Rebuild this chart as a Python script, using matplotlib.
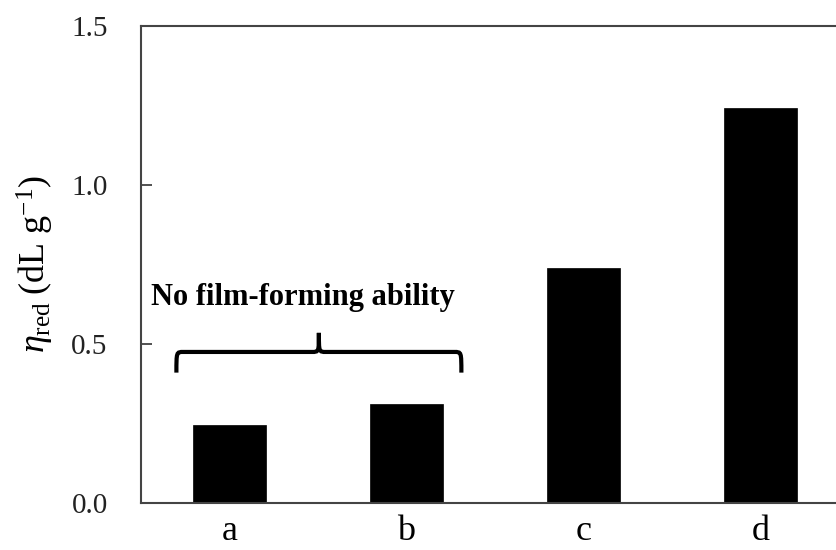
import matplotlib
matplotlib.use("Agg")
import matplotlib.pyplot as plt
import numpy as np
from matplotlib.path import Path
from matplotlib.patches import PathPatch

categories = ["a", "b", "c", "d"]
values = [0.245, 0.311, 0.740, 1.242]
yticks = [0.0, 0.5, 1.0, 1.5]
ytick_labels = ["0.0", "0.5", "1.0", "1.5"]
annotation_text = "No film-forming ability"

plt.rcParams['font.family'] = ['Liberation Serif', 'DejaVu Serif']
plt.rcParams['mathtext.fontset'] = 'custom'
plt.rcParams['mathtext.rm'] = 'Liberation Serif'
plt.rcParams['mathtext.it'] = 'Liberation Serif:italic'

fig = plt.figure(figsize=(8.36, 5.5), dpi=100)
W, H = 836, 550
left, right, top, bottom = 141, 849, 26, 503
ax = fig.add_axes([left / W, 1 - bottom / H, (right - left) / W, (bottom - top) / H])

x = np.arange(len(categories))
ax.bar(x, values, width=0.41, color='black', edgecolor='black', linewidth=0.5)

ax.set_xlim(-0.5, 3.5)
ax.set_ylim(0, 1.5)
ax.set_xticks(x)
ax.set_xticklabels(categories, fontsize=26)
ax.set_yticks(yticks)
ax.set_yticklabels(ytick_labels, fontsize=21, color='#222222')
ax.tick_params(axis='y', direction='in', length=8, width=1.2, pad=24, colors='#333333', labelcolor='#222222')
ax.tick_params(axis='x', length=0, pad=9)
for s in ax.spines.values():
    s.set_linewidth(1.5)
    s.set_color('#444444')

ax.set_ylabel(r'$\mathit{\eta}_{\mathrm{red}}\;$(dL g$^{-1}$)', fontsize=26, labelpad=11)

# curly brace
x0, x1 = -0.30, 1.31
yb, ym, yt = 0.41, 0.475, 0.535
xm = (x0 + x1) / 2
r = 0.04
verts = [
    (x0, yb), (x0, ym), (x0, ym), (x0 + r, ym),
    (xm - r, ym), (xm, ym), (xm, ym), (xm, yt),
    (xm, ym), (xm, ym), (xm + r, ym),
    (x1 - r, ym), (x1, ym), (x1, ym), (x1, yb),
]
codes = [Path.MOVETO, Path.CURVE4, Path.CURVE4, Path.CURVE4,
         Path.LINETO, Path.CURVE4, Path.CURVE4, Path.CURVE4,
         Path.CURVE4, Path.CURVE4, Path.CURVE4,
         Path.LINETO, Path.CURVE4, Path.CURVE4, Path.CURVE4]
ax.add_patch(PathPatch(Path(verts, codes), fill=False, lw=3, edgecolor='black', clip_on=False))

ax.text(0.415, 0.645, annotation_text, ha='center', va='center', fontsize=22, fontweight='bold')

fig.savefig("out.png", dpi=100)
